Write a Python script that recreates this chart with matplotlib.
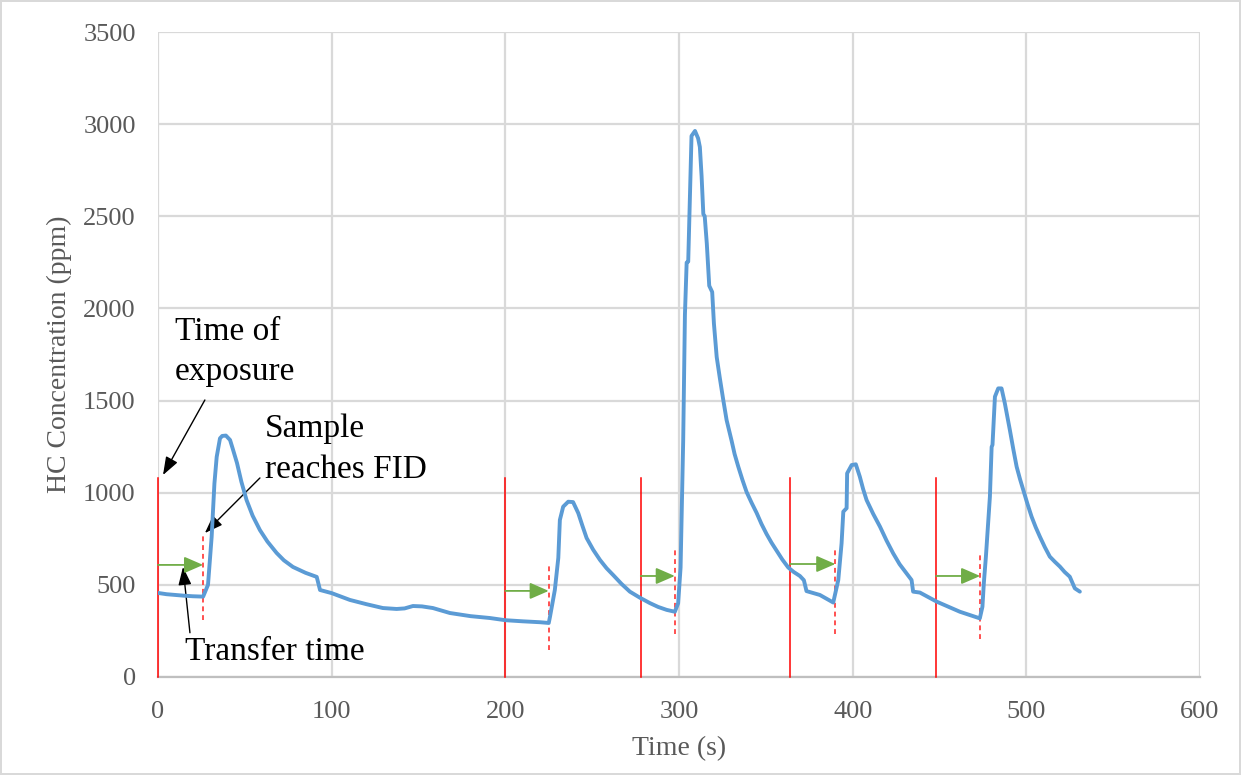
import matplotlib
matplotlib.use("Agg")
import matplotlib.pyplot as plt

plt.rcParams['font.family'] = ['Liberation Serif', 'DejaVu Serif']

# HC trace
time_s = [0, 5, 10, 15, 20, 26, 28.8, 30.9, 32.5, 33.8, 35.7, 37, 39.1, 41.5, 43, 45.5,
          48, 51, 54.5, 58.7, 63, 68.3, 72.5, 77.7, 85, 91.4, 92, 93.3, 100, 110.5, 120,
          129.5, 137.4, 142, 146.8, 152, 158.3, 168.1, 180, 191, 200, 210, 220, 225,
          225.7, 228.5, 229.5, 230.5, 231.4, 233.3, 236.2, 239, 242, 244.4, 246.8,
          250.6, 254.5, 258.3, 262.1, 266.9, 271.7, 277.5, 283.2, 288, 292.9, 297.6,
          299.5, 300.9, 302.4, 303.4, 304.4, 305.3, 306.3, 307.2, 309.2, 311, 312, 313,
          314, 314.8, 316, 317.4, 319.1, 320.1, 321.7, 323.5, 325.4, 327.4, 330.3, 332,
          334.1, 336.5, 338.9, 341.8, 344.7, 347.5, 350.4, 353.3, 356.2, 359.5, 362.9,
          366, 369.6, 371.9, 373.4, 381.1, 388.8, 391.7, 393.6, 394.6, 396.5, 396.8,
          399.4, 401.8, 404.1, 406, 408, 411.8, 415.7, 419.5, 423.3, 427, 431, 433.9,
          434.8, 438.7, 448.3, 461.7, 473.2, 474.7, 475.5, 476.7, 479, 480, 480.5,
          481.9, 483.8, 485.7, 487.6, 490.5, 492.5, 494.4, 496.3, 498.2, 500.6, 503,
          505.4, 507.8, 510.6, 513.5, 516.4, 519.3, 522, 525, 527.9, 530.8]
hc_ppm = [456, 449, 445, 441, 438, 436, 500, 760, 1050, 1194, 1295, 1308, 1310, 1286, 1240, 1161,
          1060, 960, 875, 797, 735, 673, 633, 597, 565, 543, 520, 472, 455, 418, 395,
          374, 369, 372, 385, 383, 374, 347, 330, 320, 308, 302, 297, 293,
          326, 472, 560, 646, 852, 924, 951, 949, 889, 820, 754,
          690, 635, 590, 553, 505, 463, 430, 401, 380, 364, 354,
          400, 594, 1281, 1964, 2249, 2254, 2604, 2936, 2963, 2923, 2876, 2718,
          2512, 2500, 2352, 2123, 2089, 1918, 1736, 1622, 1508, 1394, 1281, 1210,
          1142, 1070, 1004, 945, 890, 830, 776, 728, 685, 637, 594,
          570, 548, 525, 466, 445, 404, 526, 725, 897, 916, 1105,
          1150, 1154, 1087, 1020, 960, 885, 816, 740, 671, 612, 562, 526,
          463, 458, 409, 354, 318, 381, 508, 653, 978, 1248, 1260,
          1521, 1566, 1566, 1485, 1340, 1235, 1141, 1075, 1015, 940, 870,
          812, 761, 705, 653, 625, 599, 570, 544, 481, 463]

# exposure markers, FID arrival markers, transfer arrows
exposure_t = [0, 200, 278, 364, 448]
exposure_top = 1080
fid_t = [26, 225, 297.6, 390, 473.4]
fid_lo = [310, 146, 233, 233, 206]
fid_hi = [770, 608, 694, 689, 662]
transfer_y = [608, 467, 548, 613, 548]

grey = '#595959'

fig = plt.figure(figsize=(12.41, 7.75), dpi=100)
fig.patch.set_edgecolor('#d9d9d9')
fig.patch.set_linewidth(1.5)
ax = fig.add_axes([0.1273, 0.1265, 0.8397, 0.8322])

ax.plot(time_s, hc_ppm, color='#5B9BD5', lw=2.8, zorder=4,
        solid_joinstyle='round', solid_capstyle='round')

for t in exposure_t:
    ax.plot([t, t], [0, exposure_top], color='#FF0000', lw=1.1, zorder=3, clip_on=False)
for t, lo, hi in zip(fid_t, fid_lo, fid_hi):
    ax.plot([t, t], [lo, hi], color='#FF5050', lw=1.4, ls=(0, (2.5, 2)), zorder=3)
for t0, t1, y in zip(exposure_t, fid_t, transfer_y):
    ax.annotate('', xy=(t1, y), xytext=(t0, y),
                arrowprops=dict(arrowstyle='-|>,head_length=1.15,head_width=0.5',
                                color='#70AD47', lw=1.3, shrinkA=0, shrinkB=0),
                zorder=5)

black_arrow = dict(arrowstyle='-|>,head_length=1.1,head_width=0.4', color='black',
                   lw=1, shrinkA=0, shrinkB=0)
ax.text(9.8, 1611, 'Time of\nexposure', fontsize=24, ha='left', va='baseline',
        linespacing=1.4)
ax.annotate('', xy=(2.9, 1096), xytext=(27, 1503), arrowprops=black_arrow)
ax.text(61.6, 1080, 'Sample\nreaches FID', fontsize=24, ha='left', va='baseline',
        linespacing=1.45)
ax.annotate('', xy=(27, 781), xytext=(58.7, 1080), arrowprops=black_arrow)
ax.text(15.5, 92, 'Transfer time', fontsize=24, ha='left', va='baseline')
ax.annotate('', xy=(14.4, 597), xytext=(18.4, 240), arrowprops=black_arrow)

ax.set_xlim(0, 600)
ax.set_ylim(0, 3500)
ax.set_xticks(range(0, 601, 100))
ax.set_yticks(range(0, 3501, 500))
ax.grid(True, color='#d9d9d9', lw=1.6)
ax.set_axisbelow(True)
for s in ['top', 'right', 'left']:
    ax.spines[s].set_visible(False)
ax.spines['bottom'].set_color('#bfbfbf')
ax.spines['bottom'].set_linewidth(1.6)
ax.tick_params(axis='both', length=0, labelsize=19, labelcolor=grey)
ax.tick_params(axis='y', pad=16)
ax.tick_params(axis='x', pad=17)
ax.set_xlabel('Time (s)', fontsize=20, color=grey, labelpad=10)
ax.set_ylabel('HC Concentration (ppm)', fontsize=20, color=grey, labelpad=8)

fig.savefig('out.png', dpi=100)
